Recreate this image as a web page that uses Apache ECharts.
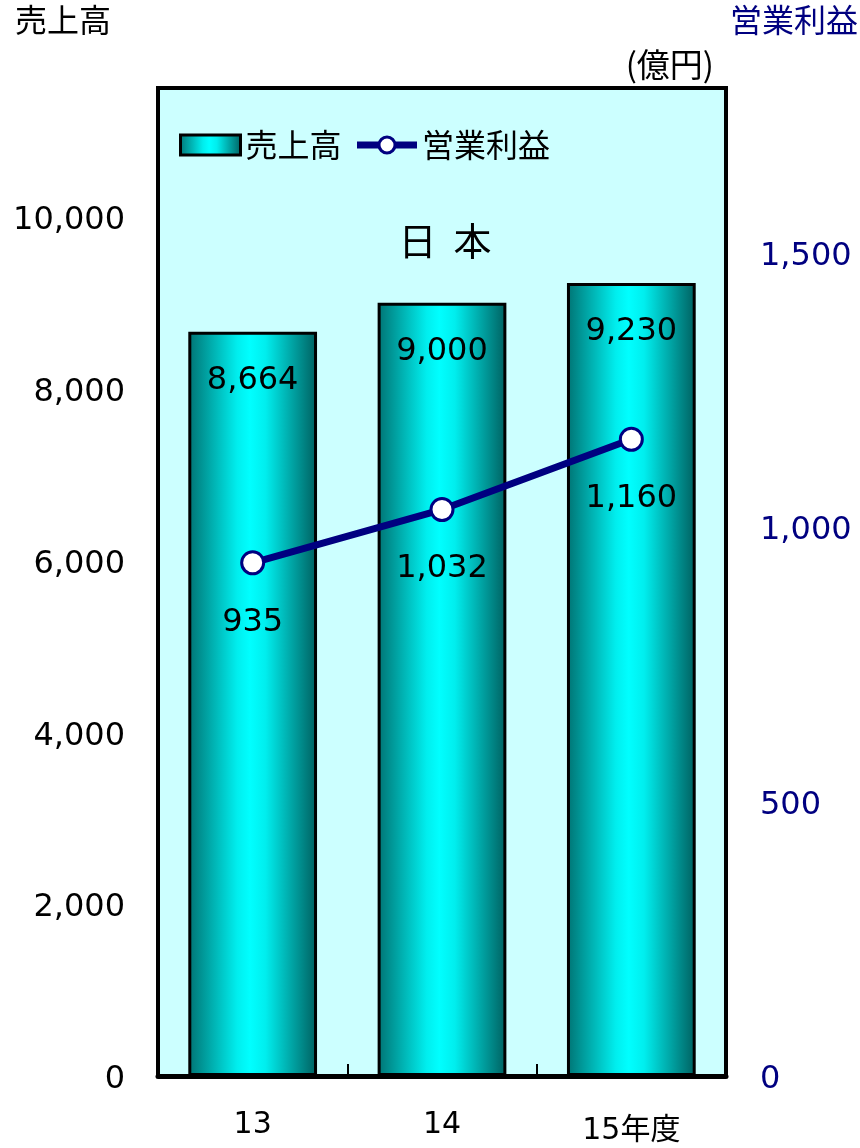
<!DOCTYPE html>
<html>
<head>
<meta charset="utf-8">
<script src="https://cdn.jsdelivr.net/npm/echarts@6/dist/echarts.min.js"></script>
<style>
html,body{margin:0;padding:0;background:#fff;}
#chart{width:860px;height:1148px;}
</style>
</head>
<body>
<div id="chart"></div>
<script>
var categories = ['13', '14', '15年度'];
var salesValues = [8664, 9000, 9230];
var profitValues = [935, 1032, 1160];
var salesName = '売上高';
var profitName = '営業利益';

var FONT = "'DejaVu Sans', 'Noto Sans CJK JP', sans-serif";
var CJK = "'Noto Sans CJK JP', sans-serif";
var NAVY = '#000080';

var barGradient = new echarts.graphic.LinearGradient(0, 0, 1, 0, [
  { offset: 0, color: '#007373' },
  { offset: 0.38, color: '#00eeee' },
  { offset: 0.48, color: '#00ffff' },
  { offset: 0.6, color: '#00eeee' },
  { offset: 1, color: '#005f5f' }
]);

function fmtNum(v) { return '{n|' + Number(v).toLocaleString('en-US') + '}'; }

var chart = echarts.init(document.getElementById('chart'));
chart.setOption({
  backgroundColor: '#ffffff',
  animation: false,
  textStyle: { fontFamily: FONT },
  grid: {
    left: 158, right: 134, top: 88, bottom: 72,
    show: true, backgroundColor: '#ccffff', borderColor: '#000', borderWidth: 4
  },
  legend: {
    left: 174, top: 124,
    itemWidth: 60, itemHeight: 20, itemGap: 12,
    textStyle: { fontFamily: CJK, fontSize: 32, color: '#000' },
    data: [
      { name: salesName, icon: 'rect', itemStyle: { borderWidth: 3, borderColor: '#000' } },
      { name: profitName, lineStyle: { width: 7, color: NAVY },
        itemStyle: { color: '#fff', borderColor: NAVY, borderWidth: 3 } }
    ]
  },
  graphic: [
    { type: 'text', left: 15, top: 4, style: { text: '売上高', font: '32px ' + CJK, fill: '#000' } },
    { type: 'text', right: 2, top: 4, style: { text: '営業利益', font: '32px ' + CJK, fill: NAVY } },
    { type: 'text', right: 146, top: 48, style: { text: '(億円)', font: '33px ' + CJK, fill: '#000' } },
    { type: 'text', x: 445, y: 241, z: 10,
      style: { text: '日  本', font: '38px ' + CJK, fill: '#000', align: 'center', verticalAlign: 'middle' } }
  ],
  xAxis: {
    type: 'category',
    data: categories,
    z: 10,
    axisLine: { lineStyle: { color: '#000', width: 5 } },
    axisTick: { show: true, inside: true, length: 12, lineStyle: { color: '#000', width: 2 }, interval: 0 },
    axisLabel: {
      color: '#000', fontSize: 30, margin: 34, interval: 0,
      formatter: function (v) { return v.indexOf('年') >= 0 ? '{a|' + v + '}' : v; },
      rich: { a: { fontSize: 30, padding: [6, 0, 0, 0], color: '#000' } }
    },
    splitLine: { show: false }
  },
  yAxis: [
    {
      type: 'value', min: 0, max: 11500, interval: 2000,
      axisLine: { show: false }, axisTick: { show: false }, splitLine: { show: false },
      axisLabel: {
        color: '#000', fontSize: 32, margin: 33, showMaxLabel: false,
        formatter: fmtNum,
        rich: { n: { fontSize: 32, color: '#000', padding: [8, 0, 0, 0] } }
      }
    },
    {
      type: 'value', min: 0, max: 1800, interval: 500,
      axisLine: { show: false }, axisTick: { show: false }, splitLine: { show: false },
      axisLabel: {
        color: NAVY, fontSize: 32, margin: 34, showMaxLabel: false,
        formatter: fmtNum,
        rich: { n: { fontSize: 32, color: NAVY, padding: [8, 0, 0, 0] } }
      }
    }
  ],
  series: [
    {
      name: salesName,
      type: 'bar',
      data: salesValues,
      barWidth: '68%',
      itemStyle: { color: barGradient, borderColor: '#000', borderWidth: 3 },
      label: {
        show: true, position: 'insideTop', distance: 33,
        fontSize: 32, color: '#000',
        formatter: function (p) { return p.value.toLocaleString('en-US'); }
      }
    },
    {
      name: profitName,
      type: 'line',
      yAxisIndex: 1,
      data: profitValues,
      lineStyle: { color: NAVY, width: 7 },
      itemStyle: { color: '#fff', borderColor: NAVY, borderWidth: 3 },
      symbol: 'circle', symbolSize: 22,
      label: {
        show: true, position: 'bottom', distance: 31,
        fontSize: 32, color: '#000',
        formatter: function (p) { return p.value.toLocaleString('en-US'); }
      },
      z: 5
    }
  ]
});
</script>
</body>
</html>
